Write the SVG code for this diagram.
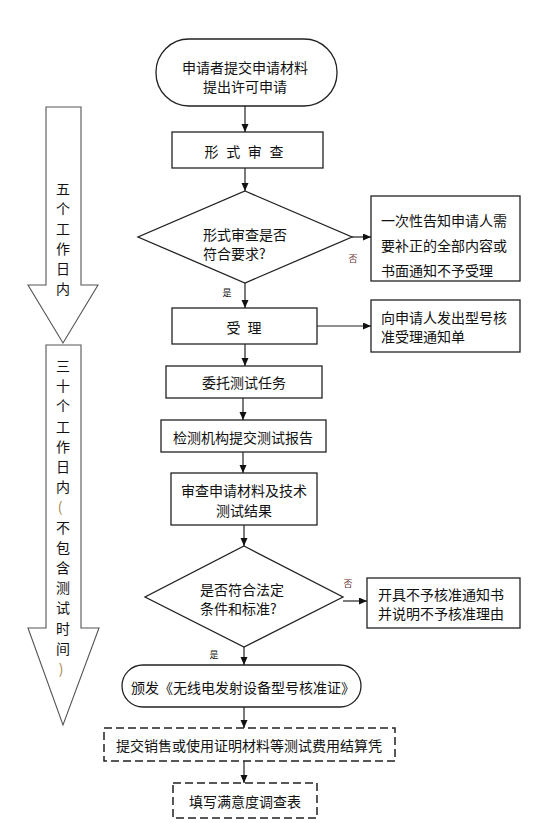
<svg xmlns="http://www.w3.org/2000/svg" width="554" height="829" viewBox="0 0 554 829">
<style>
  .t{font-family:"Noto Sans CJK SC","Noto Sans",sans-serif;font-size:14px;fill:#111;dominant-baseline:central}
  .c{text-anchor:middle}
  .box{fill:#fff;stroke:#222;stroke-width:1.3}
  .dash{fill:#fff;stroke:#222;stroke-width:1.5;stroke-dasharray:8 4}
  .big{fill:#fff;stroke:#555;stroke-width:1.1}
  .ln{fill:none;stroke:#222;stroke-width:1.2}
  .lab{font-family:"Noto Sans CJK SC","Noto Sans",sans-serif;font-size:9px;dominant-baseline:central;text-anchor:middle}
</style>
<defs>
  <marker id="ah" markerUnits="userSpaceOnUse" markerWidth="9" markerHeight="8" refX="8" refY="3.5" orient="auto">
    <path d="M0,0 L8,3.5 L0,7 z" fill="#111"/>
  </marker>
</defs>
<rect width="554" height="829" fill="#fff"/>

<g id="timeline-5days">
  <polygon class="big" points="46,107 81,107 81,285 98,285 63,343 28,285 46,285"/>
  <text class="t c" x="63" y="188"><tspan x="63" y="188">五</tspan><tspan x="63" dy="20">个</tspan><tspan x="63" dy="20">工</tspan><tspan x="63" dy="20">作</tspan><tspan x="63" dy="20">日</tspan><tspan x="63" dy="20">内</tspan></text>
</g>
<g id="timeline-30days">
  <polygon class="big" points="46,345 81,345 81,628 99,628 63,725 28,628 46,628"/>
  <text class="t c" x="63" y="365"><tspan x="63" y="365">三</tspan><tspan x="63" dy="20.2">十</tspan><tspan x="63" dy="20.2">个</tspan><tspan x="63" dy="20.2">工</tspan><tspan x="63" dy="20.2">作</tspan><tspan x="63" dy="20.2">日</tspan><tspan x="63" dy="20.2">内</tspan><tspan x="60" dy="20.2" fill="#b08850">(</tspan><tspan x="63" dy="20.2">不</tspan><tspan x="63" dy="20.2">包</tspan><tspan x="63" dy="20.2">含</tspan><tspan x="63" dy="20.2">测</tspan><tspan x="63" dy="20.2">试</tspan><tspan x="63" dy="20.2">时</tspan><tspan x="63" dy="20.2">间</tspan><tspan x="61" dy="20.2" fill="#b08850">)</tspan></text>
</g>

<g id="connectors">
  <path class="ln" marker-end="url(#ah)" d="M245,106 V132"/>
  <path class="ln" marker-end="url(#ah)" d="M245,168 V191"/>
  <path class="ln" marker-end="url(#ah)" d="M352,237 H371"/>
  <path class="ln" marker-end="url(#ah)" d="M245,283 V308"/>
  <path class="ln" marker-end="url(#ah)" d="M317,326 H371"/>
  <path class="ln" marker-end="url(#ah)" d="M245,344 V366"/>
  <path class="ln" marker-end="url(#ah)" d="M243,398 V420"/>
  <path class="ln" marker-end="url(#ah)" d="M243,452 V473"/>
  <path class="ln" marker-end="url(#ah)" d="M244,525 V546"/>
  <path class="ln" marker-end="url(#ah)" d="M343,601 H367"/>
  <path class="ln" marker-end="url(#ah)" d="M244,647 V665"/>
  <path class="ln" marker-end="url(#ah)" d="M244,707 V728"/>
  <path class="ln" marker-end="url(#ah)" d="M244,761 V783"/>
  <text class="lab" x="353" y="258" fill="#6a3030">否</text>
  <text class="lab" x="227" y="292" fill="#111" font-size="10">是</text>
  <text class="lab" x="348" y="583" fill="#6a3030">否</text>
  <text class="lab" x="214" y="654" fill="#111" font-size="10">是</text>
</g>

<g id="start">
  <rect class="box" x="156" y="39" width="181" height="67" rx="33" ry="33"/>
  <text class="t c" x="245" y="67">申请者提交申请材料</text>
  <text class="t c" x="245" y="86">提出许可申请</text>
</g>
<g id="formal-review">
  <rect class="box" x="172" y="132" width="151" height="36"/>
  <text class="t c" x="244" y="151" word-spacing="4.5">形 式 审 查</text>
</g>
<g id="decision-1">
  <polygon class="box" points="245,191 352,237 245,283 138,237"/>
  <text class="t" x="203" y="234">形式审查是否</text>
  <text class="t" x="203" y="253">符合要求?</text>
</g>
<g id="notify-correction">
  <rect class="box" x="371" y="196" width="149" height="85"/>
  <text class="t" x="381" y="220">一次性告知申请人需</text>
  <text class="t" x="381" y="245">要补正的全部内容或</text>
  <text class="t" x="381" y="270">书面通知不予受理</text>
</g>
<g id="accept">
  <rect class="box" x="172" y="308" width="145" height="36"/>
  <text class="t c" x="244" y="327" word-spacing="4">受 理</text>
</g>
<g id="accept-notice">
  <rect class="box" x="371" y="300" width="149" height="52"/>
  <text class="t" x="381" y="317">向申请人发出型号核</text>
  <text class="t" x="381" y="336">准受理通知单</text>
</g>
<g id="entrust-test">
  <rect class="box" x="166" y="366" width="156" height="32"/>
  <text class="t c" x="244" y="382">委托测试任务</text>
</g>
<g id="test-report">
  <rect class="box" x="161" y="420" width="165" height="32"/>
  <text class="t c" x="243" y="437">检测机构提交测试报告</text>
</g>
<g id="review-results">
  <rect class="box" x="171" y="473" width="146" height="52"/>
  <text class="t c" x="244" y="490">审查申请材料及技术</text>
  <text class="t c" x="244" y="510">测试结果</text>
</g>
<g id="decision-2">
  <polygon class="box" points="244,546 343,597 244,647 145,597"/>
  <text class="t" x="200" y="589">是否符合法定</text>
  <text class="t" x="200" y="608">条件和标准?</text>
</g>
<g id="reject-notice">
  <rect class="box" x="367" y="578" width="153" height="50"/>
  <text class="t" x="378" y="594" font-size="13.5">开具不予核准通知书</text>
  <text class="t" x="378" y="613" font-size="13.5">并说明不予核准理由</text>
</g>
<g id="issue-certificate">
  <rect class="box" x="122" y="665" width="239" height="42" rx="21" ry="21"/>
  <text class="t c" x="243" y="687" font-size="13.5">颁发《无线电发射设备型号核准证》</text>
</g>
<g id="submit-proof">
  <rect class="dash" x="104" y="728" width="291" height="33"/>
  <text class="t c" x="249" y="745">提交销售或使用证明材料等测试费用结算凭</text>
</g>
<g id="survey">
  <rect class="dash" x="173" y="783" width="144" height="35"/>
  <text class="t c" x="245" y="801">填写满意度调查表</text>
</g>
</svg>
